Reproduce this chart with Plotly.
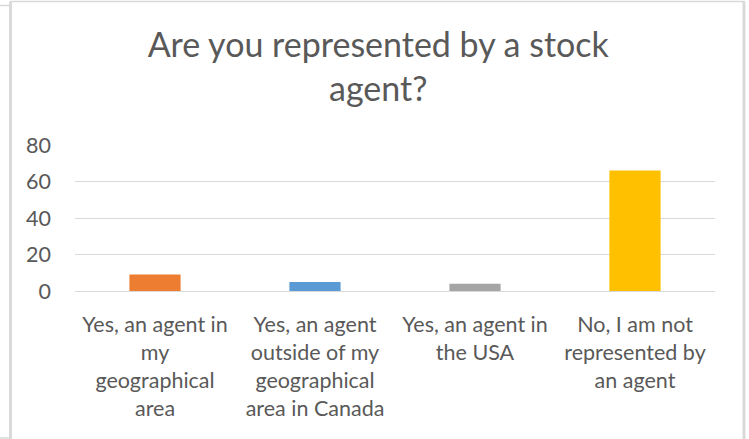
import plotly.graph_objects as go

categories = [
    "Yes, an agent in<br>my<br>geographical<br>area",
    "Yes, an agent<br>outside of my<br>geographical<br>area in Canada",
    "Yes, an agent in<br>the USA",
    "No, I am not<br>represented by<br>an agent",
]
values = [9, 5, 4, 66]
colors = ["#ED7D31", "#5B9BD5", "#A5A5A5", "#FFC000"]
y_ticks = [0, 20, 40, 60, 80]

W, H = 749, 439
ML, MR, MT, MB = 75, 34, 145, 148
pw, ph = W - ML - MR, H - MT - MB

def px_x(x):
    return (x - ML) / pw

def px_y(y):
    return (H - MB - y) / ph

def frame_line(x0, y0, x1, y1, width, color="#d9d9d9"):
    return dict(
        type="line",
        xref="paper",
        yref="paper",
        x0=px_x(x0),
        x1=px_x(x1),
        y0=px_y(y0),
        y1=px_y(y1),
        line=dict(color=color, width=width),
        layer="below",
    )

fig = go.Figure(
    go.Bar(
        x=categories,
        y=values,
        marker=dict(color=colors, line=dict(width=0)),
        width=0.32,
    )
)

fig.update_layout(
    width=W,
    height=H,
    margin=dict(l=ML, r=MR, t=MT, b=MB),
    paper_bgcolor="white",
    plot_bgcolor="white",
    font=dict(family="Lato", color="#595959"),
    showlegend=False,
    title=dict(
        text="Are you represented by a stock<br>agent?",
        x=0.505,
        xanchor="center",
        y=0.87,
        yanchor="top",
        font=dict(size=34, color="#595959", family="Lato"),
    ),
    shapes=[
        # chart frame (bottom edge runs off the page)
        frame_line(10.5, 1.5, 10.5, 445, 3),
        frame_line(10, 1.5, 745, 1.5, 1.5),
        frame_line(744, 1.5, 744, 445, 3),
        # neighbouring frame edges at the left
        frame_line(0, 5.5, 9, 5.5, 1.5),
        frame_line(0, 438, 10, 438, 1.5),
    ],
)

fig.update_xaxes(
    showgrid=False,
    showline=True,
    linecolor="#d9d9d9",
    linewidth=1,
    ticks="",
    ticklabelstandoff=14,
    tickfont=dict(size=21.5, color="#595959"),
)
fig.update_yaxes(
    range=[0, 80],
    tickvals=y_ticks,
    showgrid=True,
    gridcolor="#d9d9d9",
    gridwidth=1,
    zeroline=False,
    showline=False,
    ticks="",
    ticklabelstandoff=23,
    tickfont=dict(size=21.5, color="#595959"),
)

fig.write_html("out.html")
